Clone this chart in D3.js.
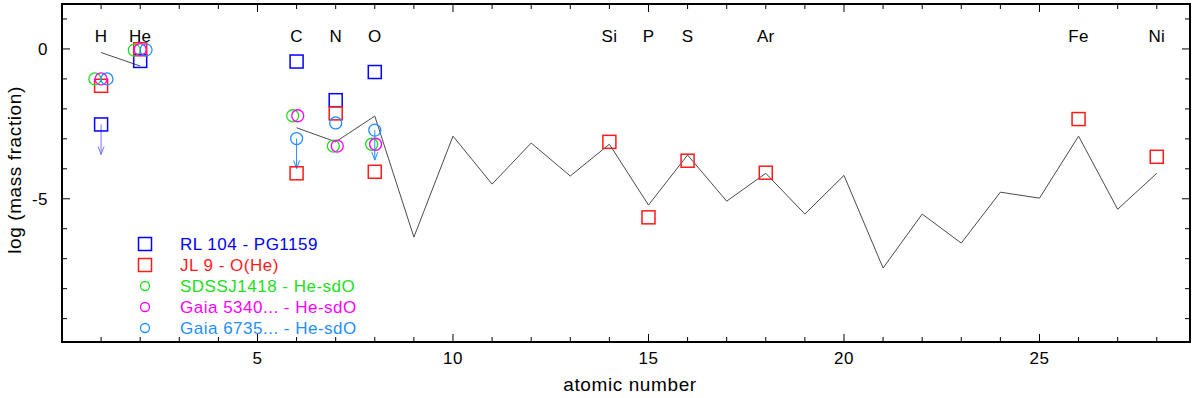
<!DOCTYPE html>
<html>
<head>
<meta charset="utf-8">
<script src="https://cdn.jsdelivr.net/npm/d3@7"></script>
<style>
  body { margin: 0; background: #fff; }
  text { font-family: "Liberation Sans", Arial, sans-serif; }
</style>
</head>
<body>
<svg id="chart"></svg>
<script>
// element labels along the top
const elemNames = ['H', 'He', 'C', 'N', 'O', 'Si', 'P', 'S', 'Ar', 'Fe', 'Ni'];
const elemZ = [1, 2, 6, 7, 8, 14, 15, 16, 18, 26, 28];

// solar mass fractions (gray line), null = no value
const solarZ = [1, 2, 3, 4, 5, 6, 7, 8, 9, 10, 11, 12, 13, 14, 15, 16, 17, 18, 19, 20, 21, 22, 23, 24, 25, 26, 27, 28];
const solarV = [-0.12, -0.57, null, null, null, -2.63, -3.1, -2.24, -6.28, -2.91, -4.51, -3.14, -4.24, -3.18,
                -5.21, -3.54, -5.08, -4.15, -5.51, -4.22, -7.31, -5.51, -6.48, -4.78, -4.98, -2.91, -5.35, -4.15];

// stars (z slightly shifted where circles would overlap); up = upper limit
const rl104 = [
    {z: 1, v: -2.52, up: true}, {z: 2, v: -0.4}, {z: 6, v: -0.42}, {z: 7, v: -1.71}, {z: 8, v: -0.77}
];
const jl9 = [
    {z: 1, v: -1.23}, {z: 2, v: -0.01}, {z: 6, v: -4.15}, {z: 7, v: -2.15}, {z: 8, v: -4.1},
    {z: 14, v: -3.1}, {z: 15, v: -5.62}, {z: 16, v: -3.73}, {z: 18, v: -4.13}, {z: 26, v: -2.34}, {z: 28, v: -3.6}
];
const sdss1418 = [
    {z: 0.84, v: -1.0}, {z: 1.85, v: -0.04}, {z: 5.9, v: -2.23}, {z: 6.94, v: -3.24}, {z: 7.92, v: -3.18}
];
const gaia5340 = [
    {z: 1.0, v: -1.0}, {z: 2.0, v: -0.02}, {z: 6.03, v: -2.23}, {z: 7.04, v: -3.24}, {z: 8.02, v: -3.18}
];
const gaia6735 = [
    {z: 1.15, v: -1.0}, {z: 2.15, v: -0.03}, {z: 6.0, v: -2.99, up: true}, {z: 7.0, v: -2.47}, {z: 8.0, v: -2.71, up: true}
];

const legendNames = ['RL 104 - PG1159', 'JL 9 - O(He)', 'SDSSJ1418 - He-sdO', 'Gaia 5340... - He-sdO', 'Gaia 6735... - He-sdO'];

const xTicks = [5, 10, 15, 20, 25];
const yTicks = [0, -5];

const width = 1200, height = 398;
const margin = {top: 4, right: 10, bottom: 56, left: 62};
const innerW = width - margin.left - margin.right;
const innerH = height - margin.top - margin.bottom;

const svg = d3.select('#chart')
    .attr('width', width)
    .attr('height', height);

const chart = svg.append('g')
    .attr('transform', `translate(${margin.left}, ${margin.top})`);

const x = d3.scaleLinear().domain([0, 28.85]).range([0, innerW]);
const y = d3.scaleLinear().domain([-9.78, 1.5]).range([innerH, 0]);

// ticks, all pointing inward, every integer
const minorX = d3.range(1, 29);
const minorY = d3.range(-9, 2);

function drawTicks(g, vals, major, pos, horiz) {
    g.selectAll('line')
        .data(vals)
        .join('line')
        .attr('stroke', '#000')
        .attr('stroke-width', 1)
        .each(function(d) {
            const len = major.includes(d) ? 8 : 5;
            const dir = pos === 0 ? 1 : -1;
            const s = d3.select(this);
            if (horiz) {
                s.attr('x1', x(d)).attr('x2', x(d)).attr('y1', pos).attr('y2', pos + dir * len);
            } else {
                s.attr('y1', y(d)).attr('y2', y(d)).attr('x1', pos).attr('x2', pos + dir * len);
            }
        });
}
drawTicks(chart.append('g'), minorX, xTicks, innerH, true);
drawTicks(chart.append('g'), minorX, xTicks, 0, true);
drawTicks(chart.append('g'), minorY, yTicks, 0, false);
drawTicks(chart.append('g'), minorY, yTicks, innerW, false);

chart.append('rect')
    .attr('width', innerW)
    .attr('height', innerH)
    .attr('fill', 'none')
    .attr('stroke', '#000')
    .attr('stroke-width', 2);

// tick labels
chart.selectAll('.xlab')
    .data(xTicks)
    .join('text')
    .attr('x', d => x(d))
    .attr('y', innerH + 22)
    .attr('text-anchor', 'middle')
    .style('font-size', '17px')
    .style('letter-spacing', '0.5px')
    .text(d => d);

chart.selectAll('.ylab')
    .data(yTicks)
    .join('text')
    .attr('x', -14)
    .attr('y', d => y(d))
    .attr('dy', '0.35em')
    .attr('text-anchor', 'end')
    .style('font-size', '17px')
    .style('letter-spacing', '0.5px')
    .text(d => d);

svg.append('text')
    .attr('x', 630)
    .attr('y', 391)
    .attr('text-anchor', 'middle')
    .style('font-size', '19px')
    .style('letter-spacing', '0.6px')
    .text('atomic number');

svg.append('text')
    .attr('transform', 'rotate(-90)')
    .attr('x', -170)
    .attr('y', 21)
    .attr('text-anchor', 'middle')
    .style('font-size', '19px')
    .style('letter-spacing', '0.6px')
    .text('log (mass fraction)');

// element names
chart.selectAll('.elem')
    .data(elemNames)
    .join('text')
    .attr('x', (d, i) => x(elemZ[i]))
    .attr('y', 38)
    .attr('text-anchor', 'middle')
    .style('font-size', '17px')
    .style('letter-spacing', '0.3px')
    .text(d => d);

// solar line
const solar = solarZ.map((z, i) => ({z: z, v: solarV[i]}));
const line = d3.line()
    .defined(d => d.v !== null)
    .x(d => x(d.z))
    .y(d => y(d.v));

chart.append('path')
    .attr('d', line(solar))
    .attr('fill', 'none')
    .attr('stroke', '#4a4a4a')
    .attr('stroke-width', 1);

// upper limit arrows
function arrows(data, color) {
    const g = chart.append('g')
        .attr('stroke', color)
        .attr('stroke-width', 1)
        .attr('fill', 'none');
    data.filter(d => d.up).forEach(d => {
        const x0 = x(d.z), y0 = y(d.v), y1 = y(d.v - 1);
        g.append('line').attr('x1', x0).attr('x2', x0).attr('y1', y0).attr('y2', y1);
        g.append('path').attr('d', `M${x0 - 3},${y1 - 8}L${x0},${y1}L${x0 + 3},${y1 - 8}`);
    });
}

function squares(data, color) {
    chart.append('g').selectAll('rect')
        .data(data)
        .join('rect')
        .attr('x', d => x(d.z) - 6.5)
        .attr('y', d => y(d.v) - 6.5)
        .attr('width', 13)
        .attr('height', 13)
        .attr('fill', 'none')
        .attr('stroke', color)
        .attr('stroke-width', 1.5);
}

function circles(data, color) {
    chart.append('g').selectAll('circle')
        .data(data)
        .join('circle')
        .attr('cx', d => x(d.z))
        .attr('cy', d => y(d.v))
        .attr('r', 6)
        .attr('fill', 'none')
        .attr('stroke', color)
        .attr('stroke-width', 1.3);
}

const colors = ['#0000ff', '#ff1a1a', '#22dd22', '#ff00ff', '#1e8fff'];

arrows(rl104, '#7373ff');
arrows(gaia6735, '#1e8fff');
squares(rl104, colors[0]);
squares(jl9, colors[1]);
circles(sdss1418, colors[2]);
circles(gaia5340, colors[3]);
circles(gaia6735, colors[4]);

// legend
const legend = svg.append('g')
    .attr('transform', 'translate(145, 244)');

legendNames.forEach((name, i) => {
    const row = legend.append('g').attr('transform', `translate(0, ${i * 21})`);
    if (i < 2) {
        row.append('rect')
            .attr('x', -6.5).attr('y', -6.5)
            .attr('width', 13).attr('height', 13)
            .attr('fill', 'none')
            .attr('stroke', colors[i])
            .attr('stroke-width', 1.5);
    } else {
        row.append('circle')
            .attr('r', 4.5)
            .attr('fill', 'none')
            .attr('stroke', colors[i])
            .attr('stroke-width', 1.3);
    }
    row.append('text')
        .attr('x', 35)
        .attr('y', 0)
        .attr('dy', '0.38em')
        .attr('fill', colors[i])
        .style('font-size', '17px')
        .style('letter-spacing', '0.5px')
        .text(name);
});
</script>
</body>
</html>
